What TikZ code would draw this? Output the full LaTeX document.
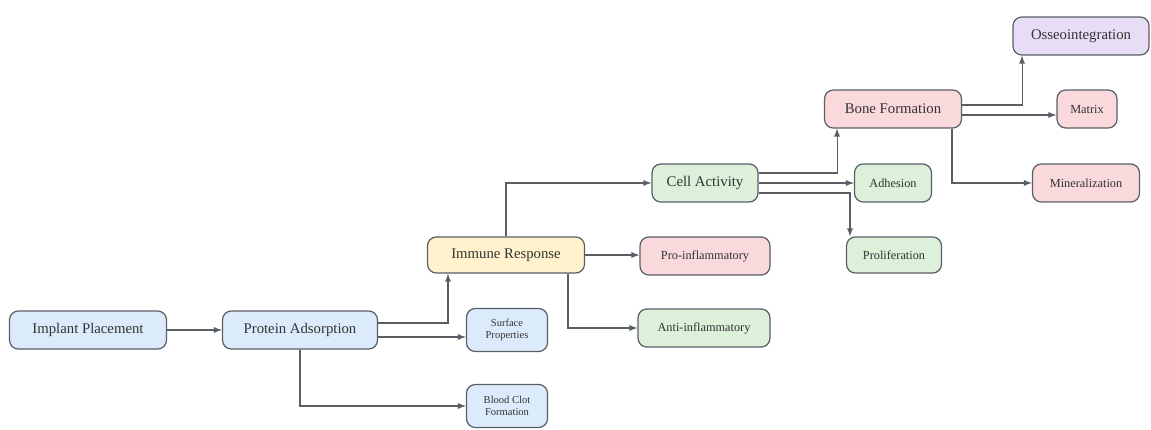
\documentclass[tikz,border=0pt]{standalone}
\usepackage{fontspec}
\setmainfont{Liberation Serif}
\newfontfamily\boxface{Liberation Serif}
\usepackage{tikz}
\usetikzlibrary{arrows}
\usetikzlibrary{positioning}
\definecolor{edgegray}{HTML}{5A5F66}
\definecolor{txtgray}{HTML}{333333}
\definecolor{fblue}{HTML}{DCEBFB}
\definecolor{fyellow}{HTML}{FFF2CC}
\definecolor{fred}{HTML}{F9D9DB}
\definecolor{fgreen}{HTML}{DCF0DA}
\definecolor{fpurple}{HTML}{E8DDF7}

\begin{document}
\begin{tikzpicture}[x=0.02cm, y=-0.02cm,
    box/.style={draw=edgegray, line width=0.7pt, rounded corners=5pt, align=center,
                text=txtgray, inner sep=1pt, minimum height=0.76cm},
    big/.style={box, font=\boxface\fontsize{8.4}{9.5}\selectfont},
    mid/.style={box, font=\boxface\fontsize{7}{8}\selectfont},
    tiny/.style={box, font=\boxface\fontsize{6}{7}\selectfont, minimum height=0.86cm},
    arr/.style={-latex, draw=edgegray, line width=0.6pt}]
				\useasboundingbox (0, 0) rectangle (1151, 429);

				\node[big, fill=fblue, minimum width=3.14cm] (impl) at (88, 330) {Implant Placement};
				\node[big, fill=fblue, minimum width=3.10cm] (prot) at (300, 330) {Protein Adsorption};
				\node[tiny, fill=fblue, minimum width=1.62cm] (surf) at (507, 330) {Surface\\Properties};
				\node[tiny, fill=fblue, minimum width=1.62cm] (blood) at (507, 406) {Blood Clot\\Formation};
				\node[big, fill=fyellow, minimum width=3.14cm, minimum height=0.72cm] (imm) at (506, 255) {Immune Response};
				\node[mid, fill=fred, minimum width=2.60cm] (pro) at (705, 256) {Pro-inflammatory};
				\node[mid, fill=fgreen, minimum width=2.64cm] (anti) at (704, 328) {Anti-inflammatory};
				\node[big, fill=fgreen, minimum width=2.12cm] (cell) at (705, 183) {Cell Activity};
				\node[mid, fill=fgreen, minimum width=1.54cm] (adh) at (893, 183) {Adhesion};
				\node[mid, fill=fgreen, minimum width=1.90cm, minimum height=0.72cm] (prolif) at (894, 255) {Proliferation};
				\node[big, fill=fred, minimum width=2.74cm] (bone) at (893, 109) {Bone Formation};
				\node[mid, fill=fred, minimum width=1.20cm] (mtx) at (1087, 109) {Matrix};
				\node[mid, fill=fred, minimum width=2.14cm] (mineral) at (1086, 183) {Mineralization};
				\node[big, fill=fpurple, minimum width=2.72cm] (osseo) at (1081, 36) {Osseointegration};

				\draw[arr] (impl) -- (prot);
				\draw[arr] ([yshift=0.14cm]prot.east) -| ([xshift=-1.16cm]imm.south);
				\draw[arr] ([yshift=-0.14cm]prot.east) -- ([yshift=-0.14cm]surf.west);
				\draw[arr] (prot.south) |- (blood.west);

				\draw[arr] (imm.north) |- (cell.west);
				\draw[arr] (imm.east) -- (pro.west |- imm.east);
				\draw[arr] ([xshift=1.24cm]imm.south) |- (anti.west);

				\draw[arr] ([yshift=0.2cm]cell.east) -| ([xshift=-1.12cm]bone.south);
				\draw[arr] (cell) -- (adh);
				\draw[arr] ([yshift=-0.2cm]cell.east) -| ([xshift=-0.88cm]prolif.north);

				\draw[arr] ([yshift=0.08cm]bone.east) -| ([xshift=-1.18cm]osseo.south);
				\draw[arr] ([yshift=-0.12cm]bone.east) -- ([yshift=-0.12cm]mtx.west);
				\draw[arr] ([xshift=1.18cm]bone.south) |- (mineral.west);
			\end{tikzpicture}
\end{document}
